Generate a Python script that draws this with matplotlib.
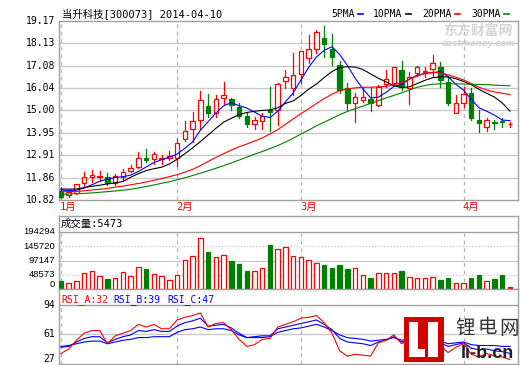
import matplotlib
matplotlib.use("Agg")
import matplotlib.pyplot as plt
from matplotlib.patches import Rectangle

plt.rcParams['font.family'] = ['DejaVu Sans Mono', 'Noto Sans CJK SC']

# ---- data ----
opens = [11.25, 11.05, 11.16, 11.60, 11.88, 11.88, 11.88, 11.60, 11.88, 12.19,
         12.35, 12.77, 12.72, 12.73, 12.77, 12.77, 13.65, 14.12, 14.55, 15.20,
         14.89, 15.59, 15.52, 15.14, 14.75, 14.37, 14.52, 15.02, 15.02, 16.38,
         16.03, 16.68, 17.43, 17.85, 18.39, 17.85, 17.12, 16.03, 15.33, 15.48,
         15.53, 15.25, 16.23, 16.26, 16.88, 16.03, 16.73, 16.79, 16.92, 17.01,
         16.34, 14.86, 15.33, 15.80, 14.55, 14.21, 14.45, 14.49, 14.35]
highs = [11.44, 11.28, 11.57, 12.14, 12.22, 12.17, 12.06, 12.03, 12.26, 12.45,
         13.04, 13.20, 13.05, 12.92, 13.10, 13.66, 14.50, 14.91, 15.90, 15.76,
         15.73, 16.32, 15.59, 15.33, 14.86, 14.68, 14.89, 16.09, 16.26, 16.88,
         17.66, 17.77, 18.52, 18.75, 18.95, 18.56, 17.32, 16.26, 15.80, 16.11,
         16.11, 16.19, 16.88, 17.04, 17.32, 16.80, 17.07, 17.04, 17.58, 17.27,
         16.60, 15.72, 16.08, 16.03, 15.02, 14.63, 14.55, 14.63, 14.45]
lows = [10.91, 10.97, 11.12, 11.44, 11.67, 11.72, 11.52, 11.52, 11.75, 12.11,
        12.30, 12.61, 12.50, 12.50, 12.69, 12.41, 13.59, 13.54, 14.12, 14.68,
        14.70, 15.30, 15.02, 14.63, 14.21, 14.13, 14.13, 14.04, 14.32, 16.03,
        15.72, 16.26, 17.23, 17.66, 17.50, 17.12, 15.80, 15.02, 14.47, 15.41,
        14.99, 15.20, 16.11, 16.26, 15.95, 15.28, 16.60, 16.57, 16.60, 16.08,
        15.25, 14.86, 15.14, 14.55, 14.01, 14.05, 14.13, 14.24, 14.24]
closes = [10.97, 11.17, 11.55, 11.88, 11.97, 11.93, 11.60, 11.95, 12.11, 12.30,
          12.77, 12.69, 12.97, 12.79, 12.88, 13.46, 14.04, 14.50, 15.49, 14.86,
          15.52, 15.70, 15.25, 14.75, 14.35, 14.55, 14.74, 14.94, 16.22, 16.54,
          16.65, 17.77, 17.85, 18.64, 18.10, 17.50, 15.95, 15.33, 15.64, 15.64,
          15.36, 16.11, 16.45, 17.04, 16.11, 16.57, 17.01, 16.85, 17.23, 16.42,
          15.36, 15.33, 15.76, 14.63, 14.40, 14.55, 14.43, 14.47, 14.38]
volumes = [27800, 19000, 26800, 55900, 60300, 43500, 33500, 36800, 57000, 45900,
           73700, 67000, 52500, 43500, 30150, 49200, 97150, 112900, 173200, 125000,
           109500, 116200, 93800, 83750, 61300, 61300, 70350, 150750, 136300, 143000,
           113900, 109500, 99500, 89400, 80400, 70350, 80400, 67000, 70350, 49200,
           36850, 55900, 55900, 55900, 60300, 39200, 35800, 35800, 39200, 30150,
           35800, 19100, 19100, 35800, 49200, 25800, 32500, 49200, 5473]

ma5 = [11.29, 11.26, 11.28, 11.38, 11.53, 11.70, 11.79, 11.87, 11.91, 11.98,
       12.15, 12.36, 12.57, 12.70, 12.82, 12.96, 13.23, 13.53, 14.07, 14.47,
       14.88, 15.21, 15.36, 15.22, 15.11, 14.92, 14.73, 14.67, 14.96, 15.40,
       15.82, 16.42, 17.01, 17.49, 17.80, 17.97, 17.61, 17.10, 16.50, 16.01,
       15.58, 15.62, 15.84, 16.12, 16.21, 16.46, 16.64, 16.72, 16.75, 16.82,
       16.57, 16.22, 15.95, 15.52, 15.12, 14.96, 14.78, 14.55, 14.52]
ma10 = [11.33, 11.33, 11.33, 11.40, 11.46, 11.51, 11.57, 11.62, 11.68, 11.88,
        12.05, 12.19, 12.28, 12.35, 12.50, 12.72, 12.98, 13.25, 13.54, 13.85,
        14.16, 14.45, 14.63, 14.80, 14.90, 14.96, 15.00, 15.02, 15.12, 15.33,
        15.44, 15.70, 15.99, 16.23, 16.53, 16.81, 17.00, 17.04, 17.02, 16.91,
        16.70, 16.50, 16.33, 16.15, 16.06, 16.10, 16.25, 16.40, 16.52, 16.57,
        16.56, 16.48, 16.35, 16.20, 15.98, 15.80, 15.62, 15.35, 14.97]
ma20 = [11.21, 11.21, 11.22, 11.25, 11.29, 11.32, 11.36, 11.42, 11.47, 11.53,
        11.59, 11.66, 11.74, 11.82, 11.91, 12.00, 12.12, 12.25, 12.42, 12.62,
        12.80, 12.98, 13.15, 13.30, 13.43, 13.57, 13.72, 13.90, 14.10, 14.35,
        14.60, 14.85, 15.08, 15.32, 15.55, 15.75, 15.92, 16.00, 16.05, 16.08,
        16.08, 16.10, 16.12, 16.20, 16.28, 16.45, 16.60, 16.72, 16.78, 16.75,
        16.66, 16.55, 16.42, 16.25, 16.08, 15.95, 15.86, 15.80, 15.74]
ma30 = [11.08, 11.10, 11.12, 11.13, 11.15, 11.18, 11.21, 11.24, 11.28, 11.32,
        11.38, 11.45, 11.52, 11.60, 11.67, 11.76, 11.86, 11.96, 12.07, 12.18,
        12.30, 12.42, 12.55, 12.68, 12.82, 12.96, 13.08, 13.22, 13.36, 13.52,
        13.70, 13.90, 14.08, 14.28, 14.45, 14.62, 14.80, 14.95, 15.08, 15.20,
        15.33, 15.45, 15.58, 15.70, 15.82, 15.95, 16.08, 16.16, 16.22, 16.24,
        16.24, 16.24, 16.23, 16.22, 16.21, 16.20, 16.18, 16.16, 16.15]

rsi_a = [39, 44, 54, 62, 65, 65, 50, 59, 62, 65, 72, 69, 72, 67, 67, 77, 80, 82, 85, 69,
         73, 74, 66, 55, 47, 49, 55, 56, 69, 72, 75, 79, 80, 82, 74, 62, 42, 36, 38, 37,
         36, 51, 54, 60, 50, 55, 57, 55, 58, 48, 40, 46, 50, 38, 35, 39, 36, 35, 32]
rsi_b = [46, 47, 52, 56, 58, 58, 51, 55, 58, 60, 65, 64, 66, 64, 64, 70, 74, 76, 79, 70,
         71, 72, 68, 62, 57, 58, 59, 59, 67, 69, 71, 73, 75, 77, 72, 66, 56, 52, 51, 50,
         48, 52, 54, 58, 52, 54, 55, 54, 56, 51, 47, 49, 51, 45, 43, 44, 42, 41, 39]
rsi_c = [47, 48, 50, 52, 53, 53, 50, 52, 54, 55, 57, 57, 58, 58, 58, 63, 66, 67, 69, 66,
         67, 67, 65, 60, 57, 57, 57, 58, 63, 65, 67, 68, 70, 72, 69, 65, 60, 57, 56, 55,
         53, 54, 55, 57, 54, 55, 55, 55, 56, 53, 50, 51, 52, 49, 48, 48, 48, 47, 47]

price_ticks = [10.82, 11.86, 12.91, 13.95, 15.00, 16.04, 17.08, 18.13, 19.17]
vol_ticks = [0, 48573, 97147, 145720, 194294]
rsi_ticks = [27, 61, 94]
month_starts = [0, 15, 31, 52]
month_labels = ["1月", "2月", "3月", "4月"]

RED = "#ff0000"
GREEN = "#008000"
BORDER = "#a0a0a0"
GRID = "#c8c8c8"

W, H = 520, 365
fig = plt.figure(figsize=(W / 100, H / 100), dpi=100)
fig.patch.set_facecolor("white")


def panel(x0, y0, x1, y1):
    ax = fig.add_axes([x0 / W, 1 - y1 / H, (x1 - x0) / W, (y1 - y0) / H])
    ax.set_xlim(-0.258, 59.04)
    ax.set_xticks([])
    ax.set_yticks([])
    for s in ax.spines.values():
        s.set_color(BORDER)
        s.set_linewidth(1.0)
    return ax


def ylabel(ax, v, txt, size=7, family="DejaVu Sans Mono", va="center"):
    ax.text(-4 / 459, v, txt, ha="right", va=va, fontsize=size, family=family,
            transform=ax.get_yaxis_transform(), clip_on=False)


n = len(closes)
xs = list(range(n))
bw = 0.58

# ---- main price panel ----
ax = panel(59, 21, 518, 200)
ax.set_ylim(price_ticks[0], price_ticks[-1])
for v in price_ticks[1:-1]:
    ax.axhline(v, color=GRID, lw=1.0, zorder=0)
for m in month_starts:
    ax.axvline(m, color="#b4b4b4", lw=0.9, ls=(0, (3, 3)), zorder=0)
for i in xs:
    o, h, l, c = opens[i], highs[i], lows[i], closes[i]
    if c >= o:
        ax.plot([i, i], [l, o], color=RED, lw=0.9, zorder=2)
        ax.plot([i, i], [c, h], color=RED, lw=0.9, zorder=2)
        ax.add_patch(Rectangle((i - bw / 2, o), bw, max(c - o, 0.015), facecolor="white",
                               edgecolor=RED, lw=0.9, zorder=3))
    else:
        ax.plot([i, i], [l, h], color=GREEN, lw=0.9, zorder=2)
        ax.add_patch(Rectangle((i - bw / 2, c), bw, max(o - c, 0.015), facecolor=GREEN,
                               edgecolor=GREEN, lw=0.9, zorder=3))
ax.plot(xs, ma5, color="blue", lw=0.8, zorder=4)
ax.plot(xs, ma10, color="black", lw=0.8, zorder=4)
ax.plot(xs, ma20, color=RED, lw=0.8, zorder=4)
ax.plot(xs, ma30, color=GREEN, lw=0.8, zorder=4)
for v in price_ticks:
    ylabel(ax, v, f"{v:.2f}")

# title and legend
fig.text(62 / W, 1 - 14 / H, "当升科技[300073] 2014-04-10", fontsize=7.5, va="center")
legend = [("5PMA", 331, "blue"), ("10PMA", 373, "black"),
          ("20PMA", 422, RED), ("30PMA", 471, GREEN)]
for name, x0, col in legend:
    t = fig.text(x0 / W, 1 - 14 / H, name, fontsize=7, va="center")
    xe = x0 + len(name) * 5.9 + 3
    fig.add_artist(plt.Line2D([xe / W, (xe + 5) / W], [1 - 14 / H, 1 - 14 / H],
                              color=col, lw=1.2))

# watermark
fig.text(478 / W, 1 - 31 / H, "东方财富网", fontsize=10, color="#d4d4d4",
         ha="center", va="center", weight="bold", family="Noto Sans CJK SC")
fig.text(479 / W, 1 - 43 / H, "eastmoney.com", fontsize=6, color="#d4d4d4",
         ha="center", va="center", weight="bold", style="italic", family="DejaVu Sans")

# month labels
for m, lab in zip(month_starts, month_labels):
    fig.text((60 + 7.74 * m) / W, 1 - 207 / H, lab, fontsize=7.5, color=RED, va="center")

# ---- volume panel ----
axv = panel(59, 216, 518, 289)
axv.set_ylim(0, 194294 * 73 / 57)
axv.axhline(194294, color=BORDER, lw=1.0, zorder=0)
axv.axhline(145720, color=GRID, lw=0.9, ls=(0, (1, 1.5)), zorder=0)
axv.axhline(97147, color=GRID, lw=0.9, zorder=0)
axv.axhline(48573, color=GRID, lw=0.9, ls=(0, (1, 1.5)), zorder=0)
for m in month_starts:
    axv.vlines(m, 0, 194294, color="#b4b4b4", lw=0.9, ls=(0, (3, 3)), zorder=0)
for i in xs:
    up = closes[i] >= opens[i]
    axv.add_patch(Rectangle((i - bw / 2, 0), bw, volumes[i],
                            facecolor="white" if up and volumes[i] > 10000 else (RED if up else GREEN),
                            edgecolor=RED if up else GREEN, lw=0.9, zorder=3))
for v in vol_ticks:
    ylabel(axv, v, str(v), size=6.8, family="Liberation Sans",
           va="bottom" if v == 0 else "center")
axv.text(2 / 459, 194294 * 65 / 57, "成交量:5473", fontsize=7.5, va="center",
         transform=axv.get_yaxis_transform())

# ---- RSI panel ----
axr = panel(59, 289, 518, 364)
axr.set_ylim(27, 27 + 75 * 67 / 59)
axr.axhline(94, color=BORDER, lw=1.0, zorder=0)
axr.axhline(61, color=GRID, lw=1.0, zorder=0)
for m in month_starts:
    axr.vlines(m, 27, 94, color="#b4b4b4", lw=0.9, ls=(0, (3, 3)), zorder=0)
axr.plot(xs, rsi_c, color="blue", lw=0.8, zorder=3)
axr.plot(xs, rsi_b, color="blue", lw=0.8, zorder=3)
axr.plot(xs, rsi_a, color=RED, lw=0.8, zorder=4)
for v in rsi_ticks:
    ylabel(axr, v, str(v), va="bottom" if v == 27 else "center")
hy = 27 + 64 * 67 / 59
axr.text(2 / 459, hy, "RSI_A:32", color=RED, fontsize=7, va="center",
         transform=axr.get_yaxis_transform())
axr.text(54 / 459, hy, "RSI_B:39", color="blue", fontsize=7, va="center",
         transform=axr.get_yaxis_transform())
axr.text(108 / 459, hy, "RSI_C:47", color="blue", fontsize=7, va="center",
         transform=axr.get_yaxis_transform())

# li-b.cn logo overlay
def fig_rect(x0, y0, x1, y1, col):
    fig.add_artist(Rectangle((x0 / W, 1 - y1 / H), (x1 - x0) / W, (y1 - y0) / H,
                             facecolor=col, edgecolor="none", transform=fig.transFigure))

fig_rect(404, 317, 444, 362, "#d40000")
fig_rect(409, 322, 418, 357, "white")
fig_rect(409, 349, 425, 357, "white")
fig_rect(428, 322, 438, 357, "white")
for k, ch in enumerate("锂电网"):
    fig.text((465 + 22 * k) / W, 1 - 328 / H, ch, fontsize=14, color="#333333",
             ha="center", va="center", family="Noto Sans CJK SC")
fig.text(487 / W, 1 - 354 / H, "li-b.cn", fontsize=13, color="#222222",
         ha="center", va="center", weight="bold", family="Liberation Sans")

fig.savefig("out.png", dpi=100)
